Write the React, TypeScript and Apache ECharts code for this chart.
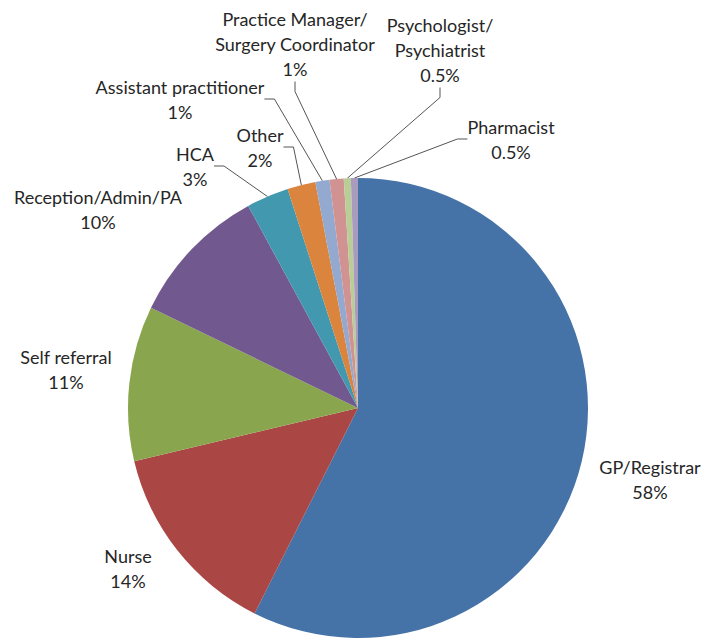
import React, { useEffect, useRef } from "react";
import * as echarts from "echarts";

const categories = [
  "GP/Registrar",
  "Nurse",
  "Self referral",
  "Reception/Admin/PA",
  "HCA",
  "Other",
  "Assistant practitioner",
  "Practice Manager/\nSurgery Coordinator",
  "Psychologist/\nPsychiatrist",
  "Pharmacist",
];
const values = [58, 14, 11, 10, 3, 2, 1, 1, 0.5, 0.5];
const colors = [
  "#4572A7",
  "#AA4643",
  "#89A54E",
  "#71588F",
  "#4198AF",
  "#DB843D",
  "#93A9CF",
  "#D19392",
  "#B9CD96",
  "#A99BBD",
];
const showLine = [false, false, false, false, true, true, true, true, true, true];

// label anchor (center) positions
const labelPos: [number, number][] = [
  [650, 479],
  [128, 568],
  [66, 369],
  [98, 209],
  [195, 166],
  [260, 147],
  [180, 99],
  [295, 44],
  [440, 50],
  [511, 139],
];

export default function App() {
  const ref = useRef<HTMLDivElement>(null);
  useEffect(() => {
    const chart = echarts.init(ref.current!, undefined, { renderer: "svg" });
    chart.setOption({
      animation: false,
      series: [
        {
          type: "pie",
          center: [358, 408],
          radius: 230,
          startAngle: 90,
          clockwise: true,
          avoidLabelOverlap: false,
          minShowLabelAngle: 0,
          data: categories.map((name, i) => ({
            name,
            value: values[i],
            itemStyle: { color: colors[i] },
            labelLine: { show: showLine[i] },
          })),
          itemStyle: { borderWidth: 0 },
          label: {
            show: true,
            formatter: (p: any) => `${p.name}\n${p.value}%`,
            fontFamily: "Lato, 'Open Sans', sans-serif",
            fontSize: 18,
            lineHeight: 25,
            color: "#262626",
            align: "center",
          },
          labelLine: {
            show: true,
            length: 10,
            length2: 10,
            lineStyle: { color: "#555", width: 1 },
          },
          labelLayout: (params: any) => {
            const p = labelPos[params.dataIndex];
            return { x: p[0], y: p[1], align: "center", verticalAlign: "middle" };
          },
        },
      ],
    });
    return () => chart.dispose();
  }, []);
  return (
    <div
      ref={ref}
      style={{ position: "fixed", left: 0, top: 0, width: 701, height: 639, background: "#fff" }}
    />
  );
}
